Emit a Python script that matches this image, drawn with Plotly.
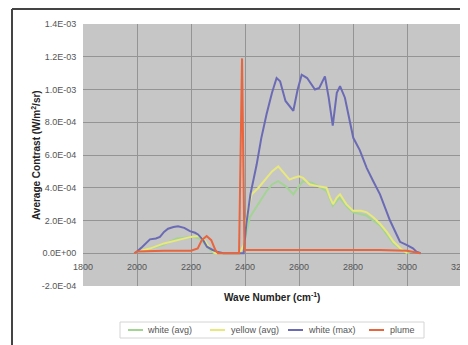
import plotly.graph_objects as go

# ---- data ----
wa_x = [1990, 2000, 2050, 2096, 2120, 2148, 2180, 2207, 2230, 2244, 2265, 2285, 2380, 2395, 2418, 2450, 2480,
        2500, 2523, 2550, 2579, 2600, 2615, 2650, 2680, 2703, 2725, 2750, 2780, 2800, 2850, 2900, 2950, 2990, 3010]
wa_y = [0, 1e-5, 3e-5, 5e-5, 7e-5, 9e-5, 9.5e-5, 1.0e-4, 9e-5, 7e-5, 3e-5, 0, 0, 5e-5, 2.2e-4, 3.0e-4, 3.8e-4,
        4.2e-4, 4.4e-4, 4.1e-4, 3.6e-4, 4.1e-4, 4.4e-4, 4.3e-4, 4.0e-4, 3.8e-4, 2.9e-4, 3.4e-4, 2.8e-4, 2.5e-4,
        2.3e-4, 1.7e-4, 6e-5, 1e-5, 0]

ya_x = [1990, 2000, 2050, 2100, 2150, 2200, 2230, 2250, 2270, 2290, 2380, 2395, 2410, 2425, 2450, 2480, 2500,
        2523, 2545, 2565, 2580, 2600, 2615, 2640, 2670, 2702, 2715, 2726, 2740, 2752, 2775, 2800, 2830, 2851,
        2875, 2900, 2925, 2950, 2975, 3000]
ya_y = [0, 1e-5, 3e-5, 6e-5, 8e-5, 1.0e-4, 1.05e-4, 8e-5, 3e-5, 0, 0, 5e-5, 2.6e-4, 3.6e-4, 4.0e-4, 4.6e-4,
        5.0e-4, 5.3e-4, 4.9e-4, 4.5e-4, 4.6e-4, 4.7e-4, 4.6e-4, 4.2e-4, 4.1e-4, 4.0e-4, 3.4e-4, 3.0e-4, 3.4e-4,
        3.6e-4, 3.0e-4, 2.6e-4, 2.6e-4, 2.5e-4, 2.2e-4, 1.8e-4, 1.3e-4, 7e-5, 3e-5, 0]

wm_x = [1990, 2000, 2020, 2048, 2070, 2085, 2100, 2115, 2135, 2152, 2175, 2196, 2215, 2226, 2245, 2259, 2280,
        2296, 2320, 2380, 2395, 2405, 2420, 2443, 2460, 2480, 2500, 2517, 2530, 2550, 2565, 2579, 2595, 2610,
        2630, 2645, 2659, 2675, 2696, 2710, 2725, 2740, 2752, 2770, 2801, 2825, 2851, 2875, 2900, 2937, 2974,
        3000, 3022, 3035, 3050]
wm_y = [0, 1e-5, 4e-5, 8.5e-5, 9e-5, 1.0e-4, 1.3e-4, 1.5e-4, 1.6e-4, 1.65e-4, 1.55e-4, 1.35e-4, 1.25e-4,
        1.15e-4, 8e-5, 4e-5, 2e-5, 1e-5, 0, 0, 0, 1.8e-4, 3.6e-4, 5.4e-4, 7e-4, 8.5e-4, 9.8e-4, 1.07e-3,
        1.05e-3, 9.3e-4, 9.0e-4, 8.7e-4, 1.0e-3, 1.09e-3, 1.07e-3, 1.03e-3, 1.0e-3, 1.01e-3, 1.08e-3, 9.5e-4,
        7.8e-4, 9.8e-4, 1.02e-3, 9.5e-4, 7.05e-4, 6.3e-4, 5.2e-4, 4.4e-4, 3.6e-4, 2.0e-4, 7e-5, 5e-5, 3e-5,
        1e-5, 0]

pl_x = [1990, 2000, 2100, 2200, 2225, 2240, 2258, 2275, 2290, 2300, 2378, 2389, 2398, 2405, 2500, 2700, 2900,
        3000, 3050]
pl_y = [0, 1e-5, 1.5e-5, 1.5e-5, 3e-5, 8e-5, 1.05e-4, 8e-5, 2e-5, 0, 0, 1.19e-3, 2e-5, 2e-5, 2e-5, 2e-5, 2e-5,
        1.5e-5, 0]

y_ticks = [-2e-4, 0, 2e-4, 4e-4, 6e-4, 8e-4, 1.0e-3, 1.2e-3, 1.4e-3]
y_ticklabels = ["-2.0E-04", "0.0E+00", "2.0E-04", "4.0E-04", "6.0E-04", "8.0E-04", "1.0E-03", "1.2E-03", "1.4E-03"]
x_ticks = [1800, 2000, 2200, 2400, 2600, 2800, 3000, 3200]
x_ticklabels = ["1800", "2000", "2200", "2400", "2600", "2800", "3000", "3200"]

series_names = ["white (avg)", "yellow (avg)", "white (max)", "plume"]
series_colors = ["#a3d493", "#e8e87c", "#6b6bb5", "#e8653e"]
series_x = [wa_x, ya_x, wm_x, pl_x]
series_y = [wa_y, ya_y, wm_y, pl_y]

# ---- layout geometry (pixels, in the 468x345 window) ----
W, H = 468, 345
OFF = 8  # default page body margin
L, R, T, B = 83, 7, 24, 59   # desired plot-area edges seen in the window
PW, PH = W - L - R, H - T - B


def px(x):
    return (x - L) / PW


def py(y):
    return (H - B - y) / PH


fig = go.Figure()
for name, xs, ys, col in zip(series_names, series_x, series_y, series_colors):
    fig.add_trace(go.Scatter(x=xs, y=ys, name=name, mode="lines",
                             line=dict(color=col, width=2), showlegend=False))

font = "Liberation Sans, Arial, sans-serif"
fig.update_layout(
    width=W, height=H,
    margin=dict(l=L - OFF, r=R + OFF, t=T - OFF, b=B + OFF, autoexpand=False),
    paper_bgcolor="#ffffff",
    plot_bgcolor="#c6c6c6",
    font=dict(family=font, size=9, color="#555555"),
    showlegend=False,
    xaxis=dict(range=[1800, 3200], tickvals=x_ticks, showticklabels=False,
               showgrid=True, gridcolor="#949494", gridwidth=1, zeroline=False,
               showline=False, ticks="", automargin=False),
    yaxis=dict(range=[-2e-4, 1.4e-3], tickvals=y_ticks, ticktext=y_ticklabels,
               showgrid=True, gridcolor="#949494", gridwidth=1, zeroline=False,
               showline=False, automargin=False,
               ticks="outside", ticklen=4, tickcolor="rgba(0,0,0,0)",
               tickfont=dict(size=9, color="#555555")),
)

# x tick labels sit just under the zero line (axis crosses at 0)
for xv, lab in zip(x_ticks, x_ticklabels):
    fig.add_annotation(text=lab, xref="x", yref="y", x=xv, y=0, yanchor="top", yshift=-7,
                       showarrow=False, font=dict(size=9, color="#555555"))

fig.add_annotation(text="<b>Wave Number (cm<sup>-1</sup>)</b>", xref="paper", yref="paper",
                   x=0.5, y=py(305), showarrow=False, font=dict(size=10, color="#222222"))
fig.add_annotation(text="<b>Average Contrast (W/m<sup>2</sup>/sr)</b>", xref="paper", yref="paper",
                   x=px(28), y=0.5, textangle=-90, showarrow=False, font=dict(size=10, color="#222222"))

# outer frame (cropped at right/bottom)
fig.add_shape(type="line", xref="paper", yref="paper", x0=px(12), x1=px(12), y0=py(9), y1=py(345),
              line=dict(color="#444444", width=2))
fig.add_shape(type="line", xref="paper", yref="paper", x0=px(12), x1=px(468), y0=py(9), y1=py(9),
              line=dict(color="#444444", width=2))

# legend box
fig.add_shape(type="rect", xref="paper", yref="paper", x0=px(120), x1=px(424), y0=py(338), y1=py(322),
              line=dict(color="#d4d4d4", width=1), fillcolor="#ffffff")
leg_line_x = [128, 210, 288, 369]
leg_text_x = [145, 229, 306, 388]
for name, col, lx, tx in zip(series_names, series_colors, leg_line_x, leg_text_x):
    fig.add_shape(type="line", xref="paper", yref="paper", x0=px(lx), x1=px(lx + 15),
                  y0=py(330), y1=py(330), line=dict(color=col, width=2))
    fig.add_annotation(text=name, xref="paper", yref="paper", x=px(tx), y=py(330),
                       xanchor="left", yanchor="middle", showarrow=False,
                       font=dict(size=9, color="#555555"))

fig.write_html("out.html", config={"displayModeBar": False})
